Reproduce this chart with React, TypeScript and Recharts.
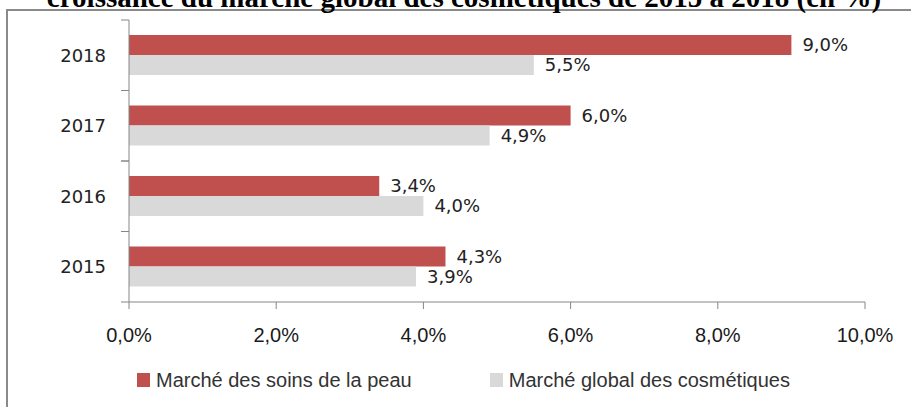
import React from 'react';
import { BarChart, Bar, XAxis, YAxis, Legend, LabelList } from 'recharts';

const years = ['2015', '2016', '2017', '2018'];
const soinsPeau = [4.3, 3.4, 6.0, 9.0];
const marcheGlobal = [3.9, 4.0, 4.9, 5.5];
const xTicks = [0, 2, 4, 6, 8, 10];
const seriesNames = ['Marché des soins de la peau', 'Marché global des cosmétiques'];
const title = 'croissance du marché global des cosmétiques de 2015 à 2018 (en %)';

const data = years.map((y, i) => ({ year: y, soins: soinsPeau[i], global: marcheGlobal[i] }));

const fmt = (v: number) => v.toFixed(1).replace('.', ',') + '%';

const AXIS = '#868686';

const YTick = (props: any) => {
  const { x, y, payload } = props;
  const axisX = x + 23;
  const off = payload?.offset ?? 0;
  return (
    <g>
      <line x1={axisX - 8} x2={axisX} y1={y - off} y2={y - off} stroke={AXIS} strokeWidth={1} />
      <line x1={axisX - 8} x2={axisX} y1={y + off} y2={y + off} stroke={AXIS} strokeWidth={1} />
      <text x={x} y={y} dy="0.36em" textAnchor="end" fill="#222" fontFamily="'DejaVu Sans', Verdana, sans-serif" fontSize={18}>
        {payload.value}
      </text>
    </g>
  );
};

const renderLegend = (props: any) => {
  const { payload } = props;
  return (
    <div style={{ display: 'flex', alignItems: 'center', height: 28, fontFamily: "'Liberation Sans', Arial, sans-serif", fontSize: 20, color: '#333', lineHeight: '28px' }}>
      {(payload || []).map((e: any, i: number) => (
        <div key={i} style={{ display: 'flex', alignItems: 'center', marginRight: i === 0 ? 78 : 0, whiteSpace: 'nowrap' }}>
          <span style={{ display: 'inline-block', width: 13, height: 14, background: e.color, marginRight: 6 }} />
          <span>{e.value}</span>
        </div>
      ))}
    </div>
  );
};

export default function App() {
  return (
    <div style={{ position: 'absolute', left: 0, top: 0, width: 911, height: 407, overflow: 'hidden', background: '#fff' }}>
      <div style={{ position: 'absolute', left: 6, top: 9, width: 1000, height: 500, borderLeft: '2px solid #8a8a8a', borderTop: '2px solid #8a8a8a' }} />
      <div style={{ position: 'absolute', left: 0, top: 0 }}>
        <BarChart
          width={911}
          height={407}
          data={data}
          layout="vertical"
          margin={{ top: 20, right: 46, bottom: 45, left: 0 }}
          barGap={0}
          barSize={20}
        >
          <XAxis
            type="number"
            domain={[0, 10]}
            ticks={xTicks}
            interval={0}
            tickFormatter={fmt}
            height={60}
            tickSize={7}
            tickMargin={19}
            axisLine={{ stroke: AXIS }}
            tickLine={{ stroke: AXIS }}
            tick={{ fill: '#1a1a1a', fontFamily: "'Liberation Sans', Arial, sans-serif", fontSize: 20 }}
          />
          <YAxis
            type="category"
            dataKey="year"
            reversed
            width={129}
            tickSize={0}
            tickMargin={23}
            tickLine={false}
            axisLine={{ stroke: AXIS }}
            tick={(p: any) => <YTick {...p} />}
            interval={0}
          />
          <Legend
            layout="horizontal"
            verticalAlign="middle"
            align="center"
            content={renderLegend}
            wrapperStyle={{ top: 366, left: 137, width: 720, height: 28 }}
          />
          <Bar dataKey="soins" name={seriesNames[0]} fill="#C0504D" isAnimationActive={false}>
            <LabelList dataKey="soins" position="right" offset={11} formatter={(v: any) => fmt(Number(v))} fill="#222" fontSize={18} fontFamily="'DejaVu Sans', Verdana, sans-serif" />
          </Bar>
          <Bar dataKey="global" name={seriesNames[1]} fill="#D9D9D9" isAnimationActive={false}>
            <LabelList dataKey="global" position="right" offset={11} formatter={(v: any) => fmt(Number(v))} fill="#222" fontSize={18} fontFamily="'DejaVu Sans', Verdana, sans-serif" />
          </Bar>
        </BarChart>
      </div>
      <svg style={{ position: 'absolute', left: 0, top: 0 }} width={911} height={20}>
        <text x={464} y={7} textAnchor="middle" fontFamily="'Liberation Serif', 'Times New Roman', serif" fontWeight="bold" fontSize={29} fill="#000">
          {title}
        </text>
      </svg>
    </div>
  );
}
